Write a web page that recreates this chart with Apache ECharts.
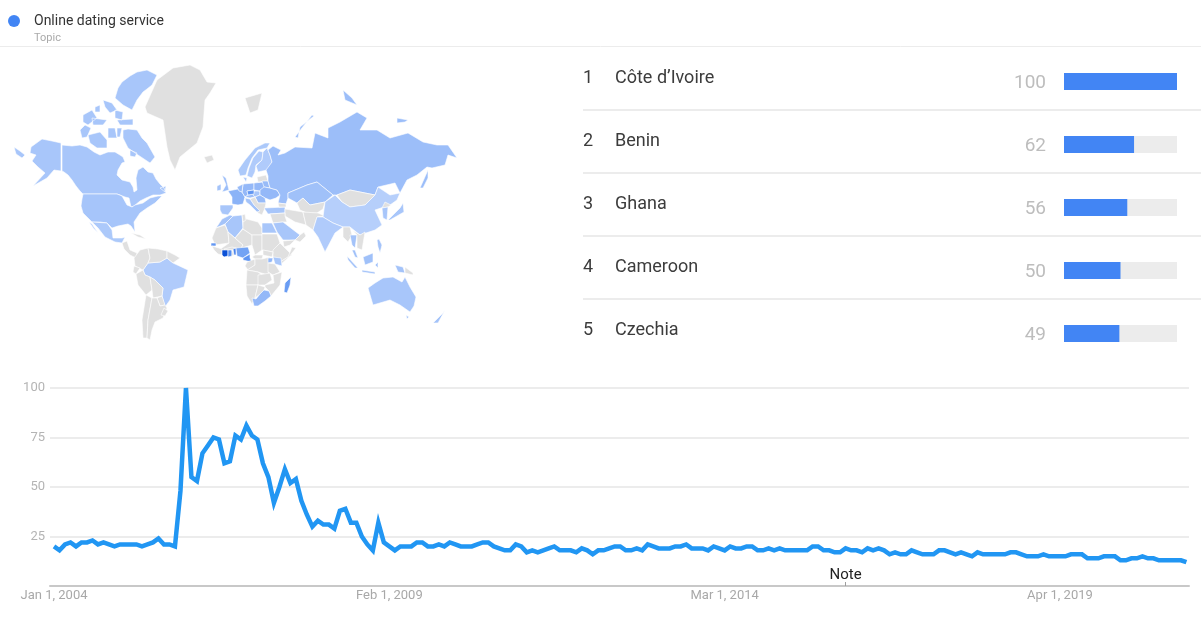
<!DOCTYPE html>
<html>
<head>
<meta charset="utf-8">
<style>html,body{margin:0;padding:0;background:#fff}#c{width:1201px;height:620px}</style>
<script src="https://cdn.jsdelivr.net/npm/echarts@6/dist/echarts.min.js"></script>
</head>
<body>
<div id="c"></div>
<script>
// ---------- data ----------
const seriesName = 'Online dating service';
const seriesKind = 'Topic';
const rankNames = ['Côte d’Ivoire', 'Benin', 'Ghana', 'Cameroon', 'Czechia'];
const rankValues = [100, 62, 56, 50, 49];
const trendValues = [20,18,21,22,20,22,22,23,21,22,21,20,21,21,21,21,20,21,22,24,21,21,20,48,100,55,53,67,71,75,74,62,63,76,74,81,76,74,62,55,42,50,59,52,54,43,36,30,33,31,31,29,38,39,32,32,25,21,18,32,22,20,18,
20,20,20,22,22,20,20,21,20,22,21,20,20,20,21,22,22,20,19,18,18,21,20,17,18,17,18,19,20,18,18,18,17,19,18,16,18,18,19,20,20,18,18,19,18,21,20,19,19,19,20,20,21,19,19,19,18,20,19,18,20,19,19,20,20,18,18,19,18,19,18,18,18,18,
18,20,20,18,18,17,17,19,18,18,17,19,18,19,18,16,17,16,16,18,17,16,16,16,18,18,17,16,17,16,15,17,16,16,16,16,16,17,17,16,15,15,15,16,15,15,15,15,16,16,16,14,14,14,15,15,15,13,13,14,14,15,14,14,13,13,13,13,13,12];
const xTickIndex = [0, 61, 122, 183];
const xTickLabels = ['Jan 1, 2004', 'Feb 1, 2009', 'Mar 1, 2014', 'Apr 1, 2019'];
const noteIndex = 144;
const noteLevel = 5.6;
const noteLabel = 'Note';

// relative interest per country on the map (countries not listed are grey = no value)
const mapNames = ['Canada','Alaska','Arctic Canada','USA','Mexico','Brazil','Morocco','Algeria','Egypt','Nigeria','Benin','Ghana','Côte d’Ivoire','Senegal','Cameroon','Uganda','Kenya','South Africa','Madagascar','Spain','France','UK','Ireland','Norway','Sweden','Finland','Denmark','Germany','Benelux','Alps','Hungary','Poland','Czechia','Belarus','Ukraine','Romania','Italy','Turkey','Russia','Kazakhstan','Saudi Arabia','China','India','Thailand','South Korea','Japan','Philippines','Malaysia','Indonesia','Australia','New Zealand'];
const mapValues = [14,14,14,15,12,10,16,14,14,40,62,56,100,49,50,25,14,24,45,14,28,20,16,12,10,10,14,24,22,20,14,24,49,22,24,22,16,14,20,18,14,7,10,16,14,14,16,18,16,14,16];

// simplified region outlines, in map units
const mapRegions = [
['Alaska',[[[31,147],[42,139],[52,141],[61,143],[61,171],[54,170],[47,178],[33,186],[45,173],[38,167],[32,161],[36,155],[30,153]],[[14,147],[20,151],[25,155],[22,158],[16,154]]]],
['Canada',[[[62,145],[72,146],[80,145],[87,147],[94,152],[100,155],[108,152],[115,152],[120,155],[123,157],[125,162],[122,163],[118,170],[117,175],[122,180],[130,182],[133,187],[134,192],[137,190],[136,178],[138,170],[143,167],[148,172],[153,173],[156,179],[160,184],[164,188],[166,193],[160,195],[153,195],[146,198],[140,201],[134,206],[131,207],[129,198],[125,197],[120,195],[117,194],[83,194],[80,191],[76,186],[72,180],[68,175],[64,172],[62,171]],[[160,188],[166,186],[165,192]]]],
['Arctic Canada',[[[122,82],[130,76],[137,72],[147,70],[157,75],[152,85],[147,89],[143,92],[137,100],[132,110],[123,105],[115,98],[118,88]],[[103,100],[112,103],[117,110],[110,113],[105,107]],[[115,110],[123,112],[122,120],[115,118]],[[83,115],[92,110],[97,118],[88,125],[83,122]],[[95,107],[100,105],[100,112],[95,112]],[[92,118],[107,120],[103,125],[93,125]],[[117,120],[133,119],[133,125],[120,125]],[[108,128],[115,128],[117,138],[108,138]],[[117,128],[122,128],[120,137],[117,137]],[[80,130],[85,125],[91,128],[87,137],[82,138]],[[88,135],[100,132],[107,140],[107,148],[97,148],[90,143]],[[123,130],[128,129],[137,130],[142,138],[147,143],[155,157],[150,163],[138,155],[128,148],[123,138]],[[130,150],[137,153],[135,157],[130,156]]]],
['Greenland',[[[145,107],[157,80],[173,68],[190,65],[200,70],[207,82],[216,83],[210,93],[205,100],[203,127],[197,143],[180,157],[175,170],[170,160],[167,147],[163,120],[147,113]]]],
['Iceland',[[[204,157],[212,155],[214,160],[207,163]]]],
['Svalbard',[[[245,98],[262,93],[258,110],[250,113]]]],
['USA',[[[82,199],[83,194],[117,194],[122,196],[127,205],[132,207],[135,205],[143,203],[150,198],[158,196],[162,196],[155,203],[147,208],[140,213],[134,222],[135,232],[131,226],[128,224],[118,226],[112,228],[107,223],[100,222],[92,222],[88,218],[83,213],[81,206]]]],
['Mexico',[[[92,222],[107,223],[112,230],[113,238],[122,238],[125,237],[122,243],[115,242],[105,237],[98,228]],[[89,222],[92,224],[98,233],[94,229]]]],
['Central America',[[[122,243],[127,241],[130,250],[137,253],[136,258],[130,255],[124,249]]]],
['Cuba',[[[131,233],[140,235],[146,239],[138,237]]]],
['Brazil',[[[143,270],[148,263],[160,262],[167,258],[173,263],[188,270],[184,287],[173,290],[170,300],[165,307],[162,296],[163,288],[155,280],[150,277],[145,275]]]],
['Colombia',[[[140,250],[148,248],[150,258],[148,263],[143,270],[135,266],[134,258]]]],
['Venezuela',[[[148,248],[158,249],[167,251],[167,258],[160,262],[148,263],[150,258]]]],
['Guyanas',[[[167,251],[175,255],[180,258],[173,263],[167,258]]]],
['Ecuador',[[[134,266],[140,268],[136,274],[133,272]]]],
['Peru',[[[136,274],[143,270],[145,275],[150,277],[152,290],[146,295],[138,285]]]],
['Bolivia',[[[150,277],[155,280],[163,288],[162,296],[153,298],[152,290]]]],
['Paraguay',[[[157,298],[162,296],[165,305],[160,306]]]],
['Chile',[[[146,295],[152,298],[148,320],[147,338],[143,338],[142,320]]]],
['Argentina',[[[152,298],[157,298],[160,306],[165,305],[167,308],[163,318],[155,322],[152,330],[150,340],[147,338],[148,320]]]],
['Uruguay',[[[164,308],[168,311],[165,316],[161,315]]]],
['Morocco',[[[216,228],[222,219],[230,215],[233,216],[225,224]]]],
['Algeria',[[[225,224],[233,216],[242,215],[243,228],[235,238],[228,232]]]],
['Mauritania',[[[216,228],[225,225],[228,232],[229,243],[215,245],[212,238]]]],
['Mali',[[[228,232],[235,238],[243,245],[240,250],[230,250],[225,256],[219,250],[229,243]]]],
['Niger',[[[243,229],[252,235],[252,245],[245,247],[240,250],[243,245],[235,238]]]],
['Libya',[[[243,218],[258,222],[262,228],[262,235],[252,235],[243,229]]]],
['Tunisia',[[[242,215],[245,214],[246,220],[243,222]]]],
['Egypt',[[[262,223],[272,223],[277,233],[262,233]]]],
['Chad',[[[252,235],[262,235],[262,250],[255,255],[252,245]]]],
['Sudan',[[[262,234],[277,234],[280,243],[273,252],[262,250]]]],
['Ethiopia',[[[273,250],[280,243],[285,248],[292,255],[280,262],[273,258]]]],
['Somalia',[[[292,247],[296,248],[288,258],[280,265],[280,262],[288,257]]]],
['Senegal',[[[211,243],[216,243],[216,246],[211,246]]]],
['Guinea',[[[212,246],[222,249],[222,255],[218,254],[214,250]]]],
['Burkina Faso',[[[224,249],[232,247],[236,248],[233,250],[225,250]]]],
['Côte d’Ivoire',[[[222,250],[228,250],[228,256],[224,257],[222,255]]]],
['Ghana',[[[228,250],[232,250],[232,256],[228,257]]]],
['Togo',[[[232,250],[233,250],[234,255],[232,256]]]],
['Benin',[[[233,249],[236,248],[236,255],[234,255]]]],
['Nigeria',[[[236,248],[248,247],[250,253],[243,258],[237,256]]]],
['Cameroon',[[[243,258],[250,254],[250,258],[252,262],[247,261],[243,260]]]],
['CAR',[[[252,257],[255,255],[263,255],[262,259],[255,259]]]],
['South Sudan',[[[263,250],[273,252],[272,257],[263,255]]]],
['Congo',[[[247,262],[255,259],[255,265],[248,270],[245,266]]]],
['DRC',[[[255,259],[262,259],[270,257],[268,275],[258,272],[247,270],[255,265]]]],
['Uganda',[[[268,258],[273,258],[272,262],[268,263]]]],
['Kenya',[[[273,257],[281,258],[282,266],[275,264]]]],
['Tanzania',[[[268,263],[275,264],[280,272],[273,275],[268,272]]]],
['Angola',[[[247,270],[258,272],[262,275],[258,285],[246,285]]]],
['Zambia',[[[258,275],[270,273],[272,280],[265,285],[258,285]]]],
['Namibia',[[[246,285],[258,285],[255,298],[252,304],[247,296]]]],
['Botswana',[[[258,285],[265,287],[264,290],[260,294],[255,298]]]],
['Mozambique',[[[273,275],[282,272],[280,285],[271,296],[269,291],[265,287],[265,285],[274,283]]]],
['South Africa',[[[252,298],[256,299],[260,294],[264,290],[269,291],[271,296],[265,301],[258,306],[254,306]]]],
['Madagascar',[[[285,283],[291,277],[290,285],[287,293],[284,292]]]],
['Spain',[[[220,205],[233,205],[233,208],[228,215],[222,214],[220,210]]]],
['France',[[[228,191],[238,189],[242,192],[245,197],[243,204],[238,205],[232,204],[232,197]]]],
['UK',[[[222,175],[226,178],[229,190],[222,192],[226,185]]]],
['Ireland',[[[217,186],[221,184],[221,190],[217,191]]]],
['Norway',[[[238,170],[245,160],[255,148],[265,143],[270,143],[267,148],[258,150],[252,158],[248,168],[246,175],[240,176]]]],
['Sweden',[[[247,176],[249,168],[253,158],[259,151],[263,152],[262,160],[256,165],[255,172],[252,178]]]],
['Finland',[[[263,152],[267,148],[270,155],[272,162],[267,170],[258,172],[256,166],[262,160]]]],
['Denmark',[[[243,177],[247,178],[246,182]]]],
['Germany',[[[243,184],[254,183],[254,190],[247,191],[248,195],[245,197],[242,192]]]],
['Benelux',[[[237,187],[243,184],[242,192],[239,191]]]],
['Alps',[[[245,197],[248,195],[254,194],[258,196],[250,198]]]],
['Hungary',[[[254,191],[260,191],[260,195],[255,197],[253,195]]]],
['Poland',[[[254,183],[263,182],[267,188],[260,191],[254,190]]]],
['Czechia',[[[247,191],[254,190],[254,194],[248,195]]]],
['Baltics',[[[257,177],[266,175],[268,181],[258,182]]]],
['Belarus',[[[262,181],[268,181],[270,188],[264,187]]]],
['Ukraine',[[[260,190],[264,187],[270,188],[277,190],[280,195],[276,198],[270,200],[265,198],[260,195]]]],
['Romania',[[[255,197],[260,195],[265,198],[266,203],[258,203]]]],
['Balkans',[[[250,199],[255,197],[258,203],[266,203],[265,208],[262,215],[258,213],[254,205]]]],
['Italy',[[[245,198],[250,199],[254,205],[260,211],[257,212],[250,205],[246,202]]]],
['Turkey',[[[264,208],[285,207],[285,213],[268,214]]]],
['Russia',[[[268,176],[266,170],[272,162],[270,155],[268,150],[273,146],[281,150],[278,155],[285,153],[295,147],[312,148],[315,133],[328,138],[328,128],[340,122],[357,112],[367,118],[360,130],[377,130],[390,138],[408,133],[423,142],[437,145],[448,145],[457,158],[448,155],[445,165],[432,168],[427,167],[417,175],[407,180],[400,193],[395,183],[378,187],[375,195],[350,190],[337,195],[333,195],[317,182],[307,185],[288,193],[288,198],[286,204],[278,203],[280,195],[277,190],[270,188],[268,181]],[[295,137],[312,115],[314,116],[300,127],[298,138]],[[420,188],[428,170],[428,178],[423,188]],[[343,90],[352,98],[357,105],[345,100]],[[397,118],[408,120],[405,122],[397,123]]]],
['Kazakhstan',[[[288,193],[307,185],[317,182],[333,195],[325,202],[310,205],[303,198],[297,203],[288,198]]]],
['Central Asia',[[[297,203],[303,198],[310,205],[325,202],[323,209],[317,213],[307,213],[300,210]]]],
['Caucasus',[[[278,203],[286,204],[286,207],[279,207]]]],
['Iran',[[[285,209],[303,212],[306,225],[295,222],[285,216]]]],
['Pakistan',[[[303,212],[318,213],[325,216],[317,217],[313,230],[306,225]]]],
['Iraq Syria',[[[270,214],[285,213],[285,216],[287,222],[283,222],[273,223]]]],
['Saudi Arabia',[[[273,223],[283,222],[300,235],[295,240],[283,240],[277,232]]]],
['Oman',[[[295,240],[300,235],[304,232],[306,236],[300,242]]]],
['Yemen',[[[283,241],[295,240],[290,245],[284,247]]]],
['Mongolia',[[[337,195],[350,190],[375,195],[370,200],[365,205],[350,207],[342,202]]]],
['China',[[[325,202],[335,195],[342,202],[350,207],[365,205],[375,195],[378,187],[390,195],[400,193],[397,200],[390,205],[375,210],[382,225],[375,230],[360,235],[350,227],[343,227],[333,223],[323,217]]]],
['India',[[[317,217],[323,217],[333,223],[343,227],[335,233],[325,252],[318,237],[313,230]]]],
['Myanmar',[[[343,227],[350,227],[352,235],[348,242],[343,237]]]],
['Thailand',[[[350,235],[357,235],[355,248],[352,245]]]],
['Indochina',[[[352,230],[360,235],[365,232],[362,250],[357,248],[357,235]]]],
['North Korea',[[[385,202],[391,205],[388,207],[382,208]]]],
['South Korea',[[[382,208],[388,207],[387,220],[383,218]]]],
['Japan',[[[388,220],[400,208],[403,203],[404,212],[390,220]]]],
['Philippines',[[[377,240],[379,239],[382,245],[380,253],[378,247]]]],
['Malaysia',[[[363,257],[373,253],[373,262],[365,265]],[[352,250],[355,250],[358,258],[355,257]]]],
['Indonesia',[[[347,256],[358,268],[355,268],[348,260]],[[362,270],[375,272],[375,274],[362,272]],[[375,265],[378,262],[378,268]],[[395,265],[403,267],[405,273],[398,272]]]],
['Papua New Guinea',[[[405,267],[413,273],[413,275],[405,273]]]],
['Australia',[[[368,288],[375,283],[383,278],[393,277],[402,282],[405,277],[410,287],[416,297],[414,306],[410,312],[400,305],[390,300],[373,305]],[[406,315],[409,317],[407,319]]]],
['New Zealand',[[[433,323],[443,313],[445,310],[438,323]]]]
];

// ---------- build ----------
const worldGeo = {
  type: 'FeatureCollection',
  features: mapRegions.map(([name, polys]) => ({
    type: 'Feature',
    properties: { name },
    geometry: { type: 'MultiPolygon', coordinates: polys.map(p => [p.map(([x, y]) => [x, -y])]) }
  }))
};
echarts.registerMap('trendsWorld', worldGeo);

const chart = echarts.init(document.getElementById('c'), null, { renderer: 'canvas' });
const font = 'Roboto';
const sep = y => ({ type: 'line', silent: true, shape: { x1: 583, y1: y, x2: 1201, y2: y }, style: { stroke: '#e6e6e6', lineWidth: 1.5 } });

chart.setOption({
  animation: false,
  backgroundColor: '#fff',
  textStyle: { fontFamily: font },
  title: { text: seriesKind, left: 34, top: 33, textStyle: { fontFamily: font, fontSize: 11, fontWeight: 'normal', color: '#aaaaaa' }, padding: 0 },
  legend: {
    left: 8, top: 14, padding: 0, itemWidth: 12, itemHeight: 12, itemGap: 0, selectedMode: false,
    data: [{ name: seriesName, icon: 'circle', itemStyle: { color: '#4285f4' } }],
    textStyle: { fontFamily: font, fontSize: 14, color: '#333333', padding: [0, 0, 0, 9] }
  },
  geo: {
    map: 'trendsWorld', silent: true, roam: false, aspectScale: 1,
    boundingCoords: [[0, -50], [480, -345]],
    left: 0, top: 50, width: 480, height: 295,
    itemStyle: { areaColor: '#e0e0e0', borderColor: '#ffffff', borderWidth: 0.6 },
    emphasis: { disabled: true }, select: { disabled: true },
    label: { show: false }
  },
  visualMap: {
    show: false, seriesIndex: 0, min: 0, max: 100,
    inRange: { color: ['#c4d9fd', '#5f95f2', '#0a50d6'] }
  },
  grid: [
    { left: 1064, top: 50, width: 113, height: 315 },
    { left: 50, top: 388, width: 1139, height: 198 }
  ],
  xAxis: [
    { gridIndex: 0, type: 'value', min: 0, max: 100, show: false },
    {
      gridIndex: 1, type: 'value', min: -0.73, max: 206.47,
      splitLine: { show: false },
      axisLine: { show: true, onZero: false, lineStyle: { color: '#c8c8c8', width: 2 } },
      axisTick: { show: true, length: 4, inside: true, customValues: [noteIndex], lineStyle: { color: '#9e9e9e', width: 1 } },
      axisLabel: {
        customValues: xTickIndex, margin: 3, color: '#a8a8a8', fontFamily: font, fontSize: 13,
        showMinLabel: true, showMaxLabel: true, hideOverlap: false,
        formatter: v => xTickLabels[xTickIndex.indexOf(Math.round(v))] || ''
      }
    }
  ],
  yAxis: [
    {
      gridIndex: 0, type: 'category', inverse: true, data: rankNames,
      axisLine: { show: false }, axisTick: { show: false }, splitLine: { show: false },
      axisLabel: {
        interval: 0, align: 'left', margin: 481, padding: [0, 0, 7, 0],
        formatter: (v, i) => `{r|${i + 1}}{n|${v}}`,
        rich: {
          r: { width: 32, fontFamily: font, fontSize: 18, color: '#3c3c3c' },
          n: { fontFamily: font, fontSize: 18, color: '#3c3c3c' }
        }
      }
    },
    {
      gridIndex: 1, type: 'value', min: 0, max: 100, interval: 25,
      axisLine: { show: false }, axisTick: { show: false },
      splitLine: { lineStyle: { color: '#e6e6e6', width: 1.5 } },
      axisLabel: { margin: 5, color: '#b4b4b4', fontFamily: font, fontSize: 13, formatter: v => v === 0 ? '' : String(v) }
    }
  ],
  series: [
    { type: 'map', geoIndex: 0, silent: true, data: mapNames.map((name, i) => ({ name, value: mapValues[i] })) },
    {
      type: 'bar', xAxisIndex: 0, yAxisIndex: 0, data: rankValues, barWidth: 17, silent: true,
      itemStyle: { color: '#4285f4' }, showBackground: true, backgroundStyle: { color: '#ececec' },
      label: { show: true, position: [-18, 10], align: 'right', verticalAlign: 'middle', color: '#bdbdbd', fontFamily: font, fontSize: 19 }
    },
    {
      name: seriesName, type: 'line', xAxisIndex: 1, yAxisIndex: 1, showSymbol: false, symbol: 'none', silent: true,
      data: trendValues.map((v, i) => [i, v]),
      lineStyle: { color: '#2196f3', width: 4.5, join: 'miter' }, itemStyle: { color: '#2196f3' },
      markPoint: {
        symbol: 'circle', symbolSize: 2, silent: true, itemStyle: { color: 'rgba(0,0,0,0)' },
        data: [{ coord: [noteIndex, noteLevel], value: noteLabel }],
        label: { show: true, position: 'inside', formatter: noteLabel, color: '#222222', fontFamily: font, fontSize: 15 }
      }
    }
  ],
  graphic: [
    { type: 'line', silent: true, shape: { x1: 0, y1: 46.5, x2: 1201, y2: 46.5 }, style: { stroke: '#ececec', lineWidth: 1 } },
    sep(110), sep(173), sep(236), sep(299)
  ]
});
</script>
</body>
</html>
